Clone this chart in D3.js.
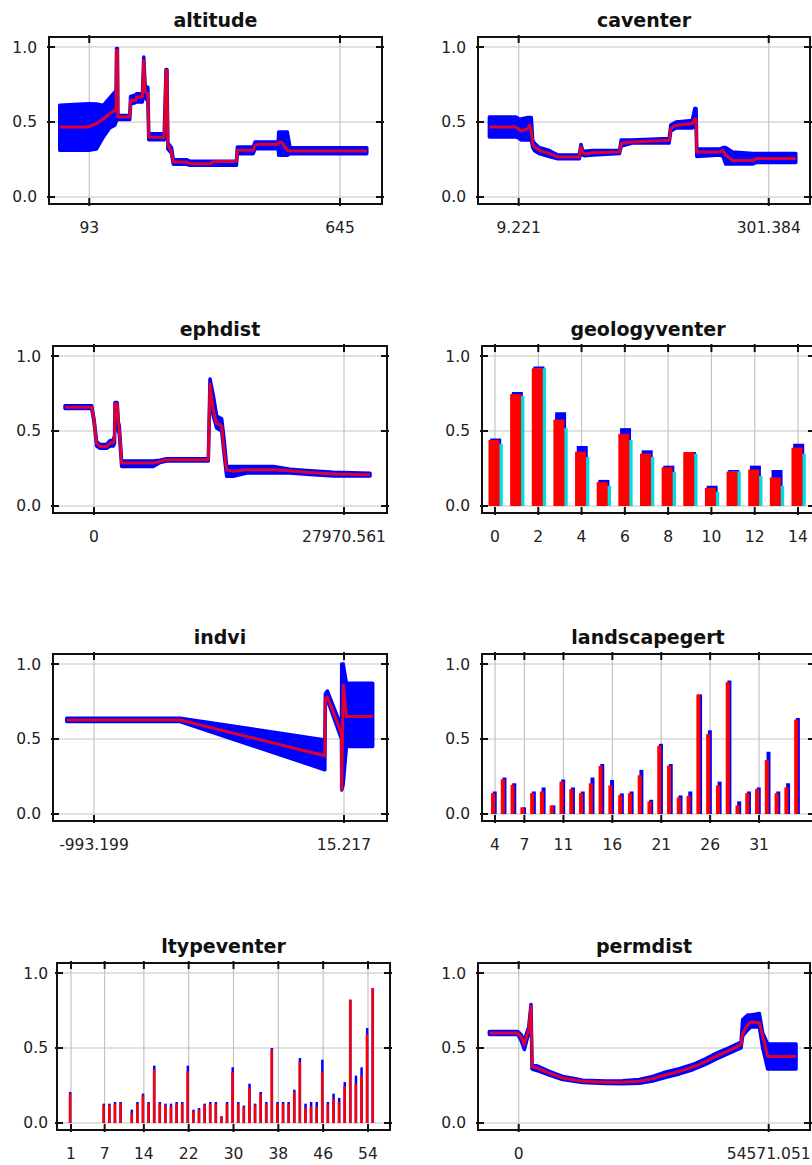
<!DOCTYPE html>
<html>
<head>
<meta charset="utf-8">
<script src="https://cdn.jsdelivr.net/npm/d3@7"></script>
<style>
  body { margin: 0; background: #fff; }
  svg { display: block; }
</style>
</head>
<body>
<div id="chart"></div>
<script>
// continuous responses: [value, mean, mean - sd, mean + sd]
const altitude = [
  [28, 0.467, 0.311, 0.611], [91, 0.467, 0.311, 0.622], [109, 0.49, 0.32, 0.62],
  [124, 0.52, 0.40, 0.61], [138, 0.555, 0.46, 0.66], [149, 0.578, 0.478, 0.70],
  [152, 0.58, 0.50, 0.70], [153, 0.978, 0.96, 0.99], [155, 0.978, 0.96, 0.99],
  [156, 0.533, 0.516, 0.544], [182, 0.533, 0.516, 0.544], [184, 0.644, 0.62, 0.67],
  [195, 0.644, 0.63, 0.68], [197, 0.667, 0.633, 0.689], [210, 0.667, 0.633, 0.689],
  [213, 0.911, 0.89, 0.933], [216, 0.70, 0.66, 0.74], [222, 0.689, 0.64, 0.73],
  [224, 0.40, 0.382, 0.422], [256, 0.396, 0.382, 0.422], [258, 0.40, 0.38, 0.42],
  [262, 0.844, 0.83, 0.85], [264, 0.844, 0.83, 0.85], [266, 0.35, 0.32, 0.36],
  [274, 0.30, 0.29, 0.33], [278, 0.233, 0.218, 0.249], [307, 0.233, 0.218, 0.249],
  [315, 0.222, 0.211, 0.238], [359, 0.222, 0.211, 0.238], [366, 0.235, 0.211, 0.238],
  [417, 0.238, 0.211, 0.24], [419, 0.311, 0.289, 0.333], [454, 0.311, 0.289, 0.333],
  [458, 0.344, 0.322, 0.367], [465, 0.351, 0.322, 0.367], [509, 0.351, 0.322, 0.367],
  [510, 0.36, 0.278, 0.433], [516, 0.367, 0.278, 0.433], [524, 0.333, 0.278, 0.433],
  [529, 0.311, 0.278, 0.433], [535, 0.307, 0.289, 0.329], [704, 0.307, 0.289, 0.329]
];

const caventer = [
  [-25, 0.467, 0.40, 0.533], [6, 0.467, 0.40, 0.533], [10, 0.45, 0.39, 0.52],
  [12, 0.44, 0.38, 0.52], [20, 0.456, 0.38, 0.53], [22, 0.478, 0.38, 0.53],
  [24, 0.44, 0.38, 0.53], [25.6, 0.356, 0.33, 0.38], [27.5, 0.333, 0.31, 0.36],
  [33, 0.311, 0.29, 0.33], [45, 0.289, 0.27, 0.31], [55, 0.267, 0.255, 0.28],
  [80, 0.267, 0.255, 0.28], [82, 0.333, 0.30, 0.35], [84, 0.30, 0.28, 0.31],
  [86, 0.289, 0.275, 0.305], [96, 0.295, 0.28, 0.31], [127, 0.30, 0.29, 0.31],
  [129, 0.356, 0.34, 0.38], [142, 0.367, 0.36, 0.38], [185, 0.378, 0.36, 0.39],
  [187, 0.456, 0.44, 0.48], [193, 0.478, 0.46, 0.50], [212, 0.489, 0.46, 0.51],
  [215, 0.52, 0.47, 0.59], [216.5, 0.52, 0.47, 0.59], [217.3, 0.30, 0.27, 0.32],
  [244, 0.30, 0.28, 0.32], [248, 0.311, 0.27, 0.33], [251, 0.278, 0.22, 0.33],
  [259, 0.244, 0.22, 0.30], [283, 0.244, 0.22, 0.29], [287, 0.256, 0.23, 0.29],
  [333, 0.256, 0.23, 0.29]
];

const ephdist = [
  [-3245, 0.659, 0.65, 0.668], [-261, 0.659, 0.65, 0.668], [0, 0.571, 0.56, 0.58],
  [298, 0.418, 0.40, 0.43], [671, 0.396, 0.385, 0.41], [1417, 0.396, 0.385, 0.41],
  [1790, 0.418, 0.40, 0.435], [2163, 0.422, 0.40, 0.44], [2300, 0.45, 0.42, 0.47],
  [2349, 0.681, 0.67, 0.69], [2600, 0.681, 0.67, 0.69], [2722, 0.55, 0.50, 0.56],
  [2834, 0.505, 0.48, 0.53], [3095, 0.286, 0.264, 0.30], [6638, 0.286, 0.264, 0.30],
  [7384, 0.297, 0.29, 0.305], [8130, 0.308, 0.30, 0.315], [12792, 0.308, 0.30, 0.315],
  [12978, 0.813, 0.78, 0.846], [13351, 0.637, 0.60, 0.736], [13724, 0.549, 0.52, 0.60],
  [14284, 0.538, 0.50, 0.582], [14545, 0.374, 0.35, 0.45], [14843, 0.242, 0.198, 0.264],
  [15589, 0.231, 0.198, 0.264], [17081, 0.242, 0.22, 0.264], [20064, 0.242, 0.22, 0.264],
  [21929, 0.235, 0.22, 0.245], [24166, 0.224, 0.21, 0.235], [26777, 0.213, 0.20, 0.225],
  [30879, 0.209, 0.20, 0.218]
];

const indvi = [
  [-1103, 0.627, 0.616, 0.638], [-646, 0.627, 0.616, 0.638], [-62, 0.388, 0.295, 0.494],
  [-60, 0.772, 0.76, 0.80], [-52, 0.78, 0.76, 0.82], [5, 0.539, 0.50, 0.58],
  [6, 0.162, 0.16, 1.0], [12, 0.86, 0.20, 1.0], [25, 0.65, 0.45, 0.871],
  [131, 0.65, 0.45, 0.871]
];

const permdist = [
  [-6403, 0.60, 0.59, 0.61], [-218, 0.60, 0.59, 0.61], [509, 0.578, 0.55, 0.59],
  [1237, 0.522, 0.49, 0.55], [1746, 0.578, 0.55, 0.60], [2183, 0.622, 0.60, 0.64],
  [2692, 0.778, 0.77, 0.79], [2910, 0.378, 0.36, 0.39], [4511, 0.36, 0.345, 0.375],
  [6694, 0.333, 0.32, 0.345], [8149, 0.316, 0.305, 0.327], [9604, 0.30, 0.29, 0.31],
  [11787, 0.289, 0.28, 0.298], [13970, 0.278, 0.27, 0.285], [19063, 0.271, 0.263, 0.28],
  [22701, 0.271, 0.262, 0.282], [26340, 0.278, 0.265, 0.29], [29250, 0.296, 0.28, 0.31],
  [32160, 0.322, 0.305, 0.34], [35070, 0.344, 0.327, 0.362], [37981, 0.373, 0.355, 0.39],
  [40892, 0.411, 0.393, 0.43], [43075, 0.444, 0.425, 0.465], [45985, 0.484, 0.465, 0.503],
  [48532, 0.522, 0.50, 0.54], [48896, 0.60, 0.58, 0.69], [49987, 0.655, 0.62, 0.72],
  [50714, 0.675, 0.64, 0.72], [52533, 0.667, 0.64, 0.73], [53261, 0.58, 0.50, 0.60],
  [54352, 0.444, 0.36, 0.527], [60537, 0.444, 0.36, 0.527]
];

// categorical responses
const geologyCats = [0, 1, 2, 3, 4, 5, 6, 7, 8, 9, 10, 11, 12, 13, 14];
const geologyMean = [0.44, 0.746, 0.918, 0.576, 0.362, 0.159, 0.481, 0.349, 0.258, 0.36, 0.121, 0.23, 0.243, 0.19, 0.389];
const geologyHigh = [0.45, 0.76, 0.93, 0.625, 0.40, 0.174, 0.519, 0.371, 0.269, 0.36, 0.135, 0.24, 0.269, 0.24, 0.415];
const geologyLow  = [0.415, 0.733, 0.918, 0.52, 0.327, 0.135, 0.44, 0.327, 0.227, 0.349, 0.095, 0.23, 0.20, 0.135, 0.349];

const landscapeCats = [4, 5, 6, 7, 8, 9, 10, 11, 12, 13, 14, 15, 16, 17, 18, 19, 20, 21, 22, 23, 24, 25, 26, 27, 28, 29, 30, 31, 32, 33, 34, 35];
const landscapeMean = [0.139, 0.232, 0.194, 0.044, 0.139, 0.15, 0.057, 0.216, 0.166, 0.139, 0.205, 0.32, 0.19, 0.126, 0.139, 0.258, 0.084, 0.455, 0.322, 0.11, 0.121, 0.797, 0.532, 0.19, 0.879, 0.057, 0.139, 0.166, 0.36, 0.139, 0.177, 0.629];
const landscapeHigh = [0.15, 0.243, 0.205, 0.044, 0.15, 0.177, 0.057, 0.23, 0.177, 0.15, 0.243, 0.333, 0.227, 0.137, 0.15, 0.294, 0.095, 0.468, 0.333, 0.124, 0.15, 0.797, 0.558, 0.216, 0.89, 0.084, 0.15, 0.177, 0.415, 0.15, 0.205, 0.64];

const ltypeCats = [1, 7, 8, 9, 10, 12, 13, 14, 15, 16, 17, 18, 19, 20, 21, 22, 23, 24, 25, 26, 27, 28, 29, 30, 31, 32, 33, 34, 35, 36, 37, 38, 39, 40, 41, 42, 43, 44, 45, 46, 47, 48, 49, 50, 51, 52, 53, 54, 55];
const ltypeMean = [0.196, 0.118, 0.118, 0.127, 0.133, 0.067, 0.129, 0.184, 0.133, 0.356, 0.129, 0.118, 0.111, 0.129, 0.129, 0.344, 0.078, 0.089, 0.122, 0.129, 0.129, 0.044, 0.129, 0.338, 0.129, 0.107, 0.233, 0.122, 0.193, 0.129, 0.489, 0.129, 0.129, 0.129, 0.207, 0.407, 0.10, 0.111, 0.111, 0.34, 0.122, 0.162, 0.14, 0.244, 0.822, 0.262, 0.316, 0.593, 0.90];
const ltypeHigh = [0.207, 0.129, 0.129, 0.14, 0.14, 0.089, 0.14, 0.196, 0.14, 0.382, 0.14, 0.129, 0.129, 0.14, 0.14, 0.382, 0.089, 0.10, 0.129, 0.14, 0.14, 0.044, 0.14, 0.371, 0.14, 0.116, 0.262, 0.129, 0.207, 0.14, 0.50, 0.14, 0.14, 0.14, 0.222, 0.433, 0.129, 0.14, 0.14, 0.422, 0.14, 0.196, 0.167, 0.273, 0.822, 0.316, 0.371, 0.633, 0.90];

// axis ticks
const altitudeTicks  = [93, 645];
const caventerTicks  = [9.221, 301.384];
const ephdistTicks   = [0, 27970.561];
const indviTicks     = [-993.199, 15.217];
const permdistTicks  = [0, 54571.051];
const geologyTicks   = [0, 2, 4, 6, 8, 10, 12, 14];
const landscapeTicks = [4, 7, 11, 16, 21, 26, 31];
const ltypeTicks     = [1, 7, 14, 22, 30, 38, 46, 54];
const yTicks = [0, 0.5, 1];

const W = 812, H = 1165;
const boxH = 167;

const svg = d3.select("#chart").append("svg")
  .attr("width", W)
  .attr("height", H);

svg.append("rect").attr("width", W).attr("height", H).attr("fill", "#fff");

// layout of the eight panels (plot box left, right, top and x range)
const panels = [
  { name: "altitude", curve: altitude, ticks: altitudeTicks, box: [49, 382, 37], xDomain: [4.3, 737.5] },
  { name: "caventer", curve: caventer, ticks: caventerTicks, box: [478, 810, 37], xDomain: [-38.3, 349.6] },
  { name: "ephdist", curve: ephdist, ticks: ephdistTicks, box: [53, 387, 346], xDomain: [-4587, 32781] },
  { name: "geologyventer", cats: geologyCats, mean: geologyMean, high: geologyHigh, low: geologyLow,
    ticks: geologyTicks, box: [482, 814, 346], xDomain: [-0.6, 14.74], barW: 11, shift: -1, offB: 1.7, offC: 3.3 },
  { name: "indvi", curve: indvi, ticks: indviTicks, box: [53, 387, 654], xDomain: [-1158.6, 188.7] },
  { name: "landscapegert", cats: landscapeCats, mean: landscapeMean, high: landscapeHigh,
    ticks: landscapeTicks, box: [482, 814, 654], xDomain: [2.67, 36.62], barW: 4, shift: -2, offB: 1.7 },
  { name: "ltypeventer", cats: ltypeCats, mean: ltypeMean, high: ltypeHigh,
    ticks: ltypeTicks, box: [57, 390, 963], xDomain: [-1.5, 57.93], barW: 2.5, shift: -1, offB: 0.2, yLabGap: 9 },
  { name: "permdist", curve: permdist, ticks: permdistTicks, box: [478, 810, 963], xDomain: [-8884, 63586] }
];

const drawPanel = p => {
  const [x0, x1, top] = p.box;
  const bottom = top + boxH;

  const x = d3.scaleLinear().domain(p.xDomain).range([x0, x1]);
  const y = d3.scaleLinear().domain([-0.0467, 1.0667]).range([bottom, top]);

  const g = svg.append("g");

  const clipId = "clip-" + p.name;
  svg.append("clipPath").attr("id", clipId)
    .append("rect")
      .attr("x", x0).attr("y", top)
      .attr("width", x1 - x0).attr("height", boxH);

  // grid
  g.selectAll(".vgrid")
    .data(p.ticks)
    .join("line")
      .attr("class", "vgrid")
      .attr("x1", d => x(d)).attr("x2", d => x(d))
      .attr("y1", top).attr("y2", bottom)
      .attr("stroke", "#c4c4c4").attr("stroke-width", 1.2);

  g.selectAll(".hgrid")
    .data(yTicks)
    .join("line")
      .attr("class", "hgrid")
      .attr("x1", x0).attr("x2", x1)
      .attr("y1", d => y(d)).attr("y2", d => y(d))
      .attr("stroke", "#c4c4c4").attr("stroke-width", 1.2);

  const plot = g.append("g").attr("clip-path", `url(#${clipId})`);

  if (p.curve) {
    const band = d3.area()
      .x(d => x(d[0]))
      .y0(d => y(d[2]))
      .y1(d => y(d[3]));
    const mean = d3.line()
      .x(d => x(d[0]))
      .y(d => y(d[1]));

    plot.append("path")
      .attr("d", band(p.curve))
      .attr("fill", "#0000ff")
      .attr("stroke", "#0000ff")
      .attr("stroke-width", 3.5)
      .attr("stroke-linejoin", "round");

    plot.append("path")
      .attr("d", mean(p.curve))
      .attr("fill", "none")
      .attr("stroke", "#f00020")
      .attr("stroke-opacity", 0.92)
      .attr("stroke-width", 3)
      .attr("stroke-linejoin", "round");
  } else {
    const rows = p.cats.map((c, i) => ({
      c, mean: p.mean[i], high: p.high[i], low: p.low ? p.low[i] : null
    }));
    const left = d => x(d.c) + p.shift - p.barW / 2;

    plot.selectAll(".hi")
      .data(rows)
      .join("rect")
        .attr("class", "hi")
        .attr("x", d => left(d) + p.offB)
        .attr("y", d => y(d.high))
        .attr("width", p.barW)
        .attr("height", d => y(0) - y(d.high))
        .attr("fill", "#0000ff");

    if (p.low) {
      plot.selectAll(".lo")
        .data(rows)
        .join("rect")
          .attr("class", "lo")
          .attr("x", d => left(d) + p.offC)
          .attr("y", d => y(d.low))
          .attr("width", p.barW)
          .attr("height", d => y(0) - y(d.low))
          .attr("fill", "#00dce6");
    }

    plot.selectAll(".mean")
      .data(rows)
      .join("rect")
        .attr("class", "mean")
        .attr("x", d => left(d))
        .attr("y", d => y(d.mean))
        .attr("width", p.barW)
        .attr("height", d => y(0) - y(d.mean))
        .attr("fill", "#ff0000");
  }

  // frame
  g.append("rect")
    .attr("x", x0).attr("y", top)
    .attr("width", x1 - x0).attr("height", boxH)
    .attr("fill", "none")
    .attr("stroke", "#111")
    .attr("stroke-width", 2);

  // tick marks on all four sides, pointing inward
  const tk = 6;
  g.selectAll(".xtb")
    .data(p.ticks)
    .join("line")
      .attr("class", "xtb")
      .attr("x1", d => x(d)).attr("x2", d => x(d))
      .attr("y1", bottom + 2).attr("y2", bottom - tk)
      .attr("stroke", "#111").attr("stroke-width", 2);
  g.selectAll(".xtt")
    .data(p.ticks)
    .join("line")
      .attr("class", "xtt")
      .attr("x1", d => x(d)).attr("x2", d => x(d))
      .attr("y1", top - 2).attr("y2", top + tk)
      .attr("stroke", "#111").attr("stroke-width", 2);
  g.selectAll(".ytl")
    .data(yTicks)
    .join("line")
      .attr("class", "ytl")
      .attr("x1", x0 - 2).attr("x2", x0 + tk)
      .attr("y1", d => y(d)).attr("y2", d => y(d))
      .attr("stroke", "#111").attr("stroke-width", 2);
  g.selectAll(".ytr")
    .data(yTicks)
    .join("line")
      .attr("class", "ytr")
      .attr("x1", x1 + 2).attr("x2", x1 - tk)
      .attr("y1", d => y(d)).attr("y2", d => y(d))
      .attr("stroke", "#111").attr("stroke-width", 2);

  // labels
  g.selectAll(".xlab")
    .data(p.ticks)
    .join("text")
      .attr("class", "xlab")
      .attr("x", d => x(d))
      .attr("y", top + 196)
      .attr("text-anchor", "middle")
      .style("font-family", "'DejaVu Sans', sans-serif")
      .style("font-size", "15.5px")
      .attr("fill", "#222")
      .text(d => String(d));

  g.selectAll(".ylab")
    .data(yTicks)
    .join("text")
      .attr("class", "ylab")
      .attr("x", x0 - (p.yLabGap || 12))
      .attr("y", d => y(d) + 5.5)
      .attr("text-anchor", "end")
      .style("font-family", "'DejaVu Sans', sans-serif")
      .style("font-size", "15.5px")
      .attr("fill", "#222")
      .text(d => d3.format(".1f")(d));

  g.append("text")
    .attr("x", (x0 + x1) / 2)
    .attr("y", top - 10)
    .attr("text-anchor", "middle")
    .style("font-family", "'DejaVu Sans', sans-serif")
    .style("font-size", "19px")
    .style("font-weight", "bold")
    .attr("fill", "#111")
    .text(p.name);
};

panels.forEach(drawPanel);
</script>
</body>
</html>
